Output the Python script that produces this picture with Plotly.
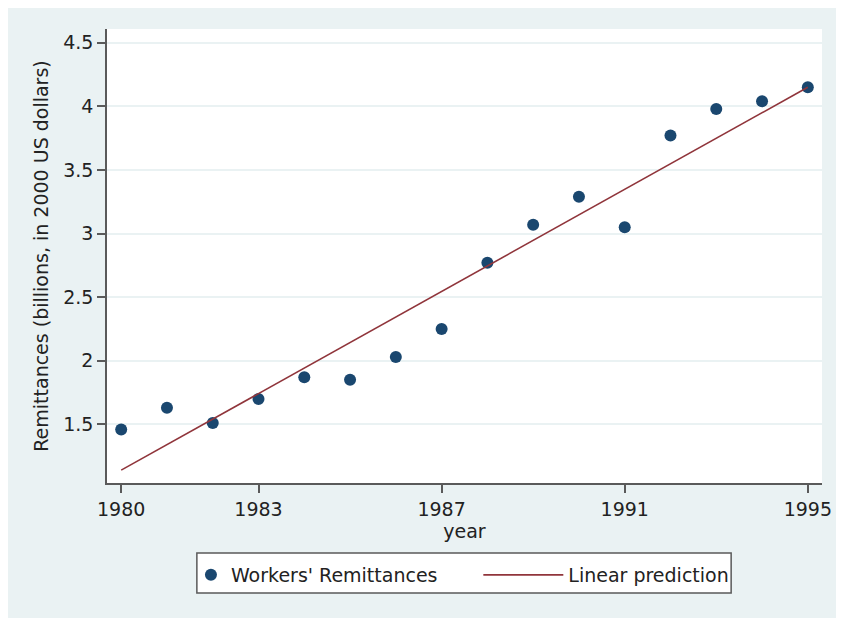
import plotly.graph_objects as go

# ---- data ----
years = [1980, 1981, 1982, 1983, 1984, 1985, 1986, 1987,
         1988, 1989, 1990, 1991, 1992, 1993, 1994, 1995]
remittances = [1.46, 1.63, 1.51, 1.70, 1.87, 1.85, 2.03, 2.25,
               2.77, 3.07, 3.29, 3.05, 3.77, 3.98, 4.04, 4.15]
pred_years = [1980, 1995]
pred_values = [1.14, 4.15]

x_ticks = [1980, 1983, 1987, 1991, 1995]
y_ticks = [1.5, 2, 2.5, 3, 3.5, 4, 4.5]

# ---- style ----
NAVY = "#1a476f"
MAROON = "#90353b"
BG = "#eaf2f3"
AXIS = "#5a5a5a"
TXT = "#222222"
FONT = "DejaVu Sans"

# figure sits inside the page's 8px body margin
W, H = 836, 610
L, R, T, B = 99, 13, 21, 135
pw, ph = W - L - R, H - T - B


def px_x(px):
    return (px - L) / pw


def px_y(py):
    return (H - B - py) / ph


fig = go.Figure()
fig.add_trace(go.Scatter(
    x=years, y=remittances, mode="markers", name="Workers' Remittances",
    marker=dict(color=NAVY, size=12, line=dict(width=0)),
    legend="legend",
))
fig.add_trace(go.Scatter(
    x=pred_years, y=pred_values, mode="lines", name="Linear prediction",
    line=dict(color=MAROON, width=1.6),
    legend="legend2",
))

# legend frame
fig.add_shape(type="rect", xref="paper", yref="paper", layer="below",
              x0=px_x(190), x1=px_x(731), y0=px_y(585), y1=px_y(545),
              fillcolor="white", line=dict(color=AXIS, width=1.5))

leg_common = dict(
    orientation="h", yanchor="middle", y=px_y(567), xanchor="left",
    bgcolor="rgba(0,0,0,0)", borderwidth=0,
    font=dict(family=FONT, size=19, color=TXT),
)

fig.update_layout(
    width=W, height=H,
    margin=dict(l=L, r=R, t=T, b=B, pad=0),
    paper_bgcolor=BG, plot_bgcolor="white",
    font=dict(family=FONT, size=19, color=TXT),
    showlegend=True,
    legend=dict(x=px_x(184), **leg_common),
    legend2=dict(x=px_x(475), itemwidth=80, **leg_common),
    xaxis=dict(
        range=[1979.69, 1995.31], tickvals=x_ticks, ticktext=[str(v) for v in x_ticks],
        showgrid=False, zeroline=False,
        showline=True, linecolor=AXIS, linewidth=1.5,
        ticks="outside", ticklen=8, tickwidth=1.5, tickcolor=AXIS,
        tickfont=dict(family=FONT, size=19, color=TXT),
        title=dict(text="year", standoff=0, font=dict(family=FONT, size=19, color=TXT)),
    ),
    yaxis=dict(
        range=[1.039, 4.608], tickvals=y_ticks,
        showgrid=True, gridcolor=BG, gridwidth=1.5, zeroline=False,
        showline=True, linecolor=AXIS, linewidth=1.5,
        ticks="outside", ticklen=8, tickwidth=1.5, tickcolor=AXIS,
        tickfont=dict(family=FONT, size=19, color=TXT),
        title=dict(text="Remittances (billions, in 2000 US dollars)", standoff=10,
                   font=dict(family=FONT, size=19, color=TXT)),
    ),
)

fig.write_html("out.html")
